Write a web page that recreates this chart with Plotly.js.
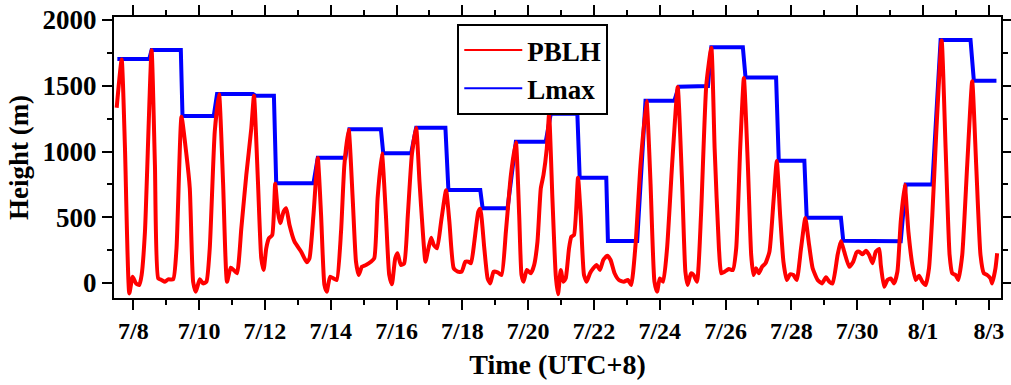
<!DOCTYPE html>
<html>
<head>
<meta charset="utf-8">
<script src="https://cdn.plot.ly/plotly-3.0.1.min.js"></script>
<style>html,body{margin:0;padding:0;background:#fff;}#chart{width:1011px;height:385px;}</style>
</head>
<body>
<div id="chart"></div>
<script>
// Time is given in days since 2021-07-08 00:00 (UTC+8)
const pblhDay = [-0.505,-0.354,-0.253,-0.121,-0.020,0.081,0.182,0.253,0.354,0.556,0.657,0.758,0.859,0.960,1.061,1.212,1.313,1.465,1.616,1.717,1.818,1.899,2.020,2.121,2.222,2.323,2.475,2.606,2.727,2.848,2.960,3.051,3.152,3.283,3.434,3.586,3.667,3.788,3.889,3.960,4.040,4.121,4.222,4.313,4.394,4.465,4.566,4.646,4.747,4.899,5.101,5.273,5.354,5.475,5.606,5.707,5.808,5.879,5.980,6.081,6.182,6.313,6.414,6.545,6.667,6.768,6.848,6.949,7.071,7.222,7.323,7.424,7.556,7.677,7.778,7.859,7.960,8.030,8.131,8.232,8.343,8.465,8.596,8.697,8.798,8.879,8.970,9.051,9.131,9.232,9.354,9.505,9.606,9.737,9.859,9.980,10.091,10.182,10.263,10.364,10.485,10.545,10.667,10.768,10.848,10.949,11.071,11.192,11.323,11.475,11.626,11.727,11.798,11.859,11.960,12.081,12.182,12.283,12.384,12.465,12.566,12.636,12.737,12.838,12.909,12.990,13.071,13.141,13.242,13.313,13.394,13.515,13.596,13.697,13.778,13.879,13.980,14.081,14.182,14.283,14.404,14.505,14.626,14.758,14.909,15.030,15.131,15.263,15.414,15.596,15.717,15.838,15.919,16.000,16.101,16.222,16.374,16.545,16.677,16.778,16.848,16.949,17.030,17.131,17.253,17.414,17.566,17.667,17.798,17.869,17.970,18.101,18.222,18.323,18.444,18.556,18.677,18.778,18.848,18.929,19.010,19.111,19.212,19.333,19.455,19.556,19.657,19.758,19.859,19.960,20.061,20.162,20.293,20.424,20.525,20.646,20.798,20.929,21.051,21.152,21.253,21.404,21.505,21.606,21.758,21.879,21.980,22.061,22.162,22.263,22.364,22.465,22.566,22.667,22.717,22.818,22.919,23.020,23.121,23.222,23.323,23.444,23.556,23.677,23.778,23.879,23.980,24.081,24.182,24.283,24.404,24.566,24.687,24.808,24.889,24.990,25.071,25.192,25.343,25.495,25.616,25.747,25.848,25.949,26.051,26.101,26.202,26.253];
const pblhVal = [1333,1700,1024,-79,48,-3,-15,61,390,1770,897,35,23,10,28,28,264,1265,973,720,10,-66,28,-3,10,264,1151,1435,771,10,117,99,74,416,821,1176,1425,771,188,99,264,340,365,755,542,454,542,568,441,314,238,157,188,517,950,517,-15,-66,48,35,23,390,897,1165,644,162,61,124,137,162,188,644,985,517,61,-10,188,226,137,150,517,973,1180,771,390,162,264,345,289,264,466,705,466,112,86,86,162,162,150,314,542,565,264,35,-3,86,81,61,390,821,1070,517,61,10,99,74,137,314,720,821,1024,1285,644,61,-86,99,10,35,264,352,365,800,517,61,10,74,112,137,99,175,208,175,74,23,10,23,-15,289,897,1385,771,10,-66,35,10,264,897,1490,771,86,-15,74,61,10,517,1506,1790,1024,264,74,86,106,99,264,1024,1560,897,213,61,112,74,124,150,238,618,928,517,162,23,66,61,23,264,495,314,112,23,-3,43,10,-3,213,320,238,124,162,233,238,218,246,213,150,238,259,137,-28,23,35,-3,86,466,748,390,137,23,56,10,-15,112,517,1151,1845,1024,213,74,61,23,213,897,1535,897,213,74,61,35,-3,112,226];
const lmaxDay = [-0.485,0.485,0.556,1.444,1.495,2.444,2.545,3.636,3.717,4.273,4.343,5.475,5.606,6.444,6.566,7.525,7.596,8.444,8.596,9.485,9.576,10.545,10.616,11.374,11.626,12.535,12.687,13.495,13.566,14.374,14.424,15.313,15.566,16.444,16.576,17.465,17.566,18.525,18.606,19.535,19.616,20.394,20.465,21.505,21.576,22.667,22.717,23.323,23.475,24.283,24.535,25.444,25.545,26.232];
const lmaxVal = [1703,1703,1772,1772,1270,1270,1437,1437,1425,1425,758,758,953,953,1169,1169,986,986,1181,1181,707,707,568,568,1075,1075,1288,1288,801,801,319,319,1387,1387,1493,1498,1792,1792,1562,1562,930,930,497,497,322,322,317,317,750,750,1848,1848,1539,1539];
const seriesNames = ['PBLH', 'Lmax'];
const seriesColors = ['#ff0000', '#0000ff'];
const xTitle = 'Time (UTC+8)';
const yTitle = 'Height (m)';

const t0 = Date.UTC(2021, 6, 8);
function toDate(d) {
  return new Date(t0 + Math.round(d * 86400000)).toISOString().replace('T', ' ').slice(0, 19);
}

const serif = 'Liberation Serif, Times New Roman, serif';
const traces = [
  { x: lmaxDay.map(toDate), y: lmaxVal, name: seriesNames[1], type: 'scatter', mode: 'lines',
    showlegend: false, line: { color: seriesColors[1], width: 4 } },
  { x: pblhDay.map(toDate), y: pblhVal, name: seriesNames[0], type: 'scatter', mode: 'lines',
    showlegend: false, line: { color: seriesColors[0], width: 4, shape: 'spline', smoothing: 0.5 } },
  // legend keys (thin sample lines, as in the original legend)
  { x: [null], y: [null], name: seriesNames[0], type: 'scatter', mode: 'lines',
    line: { color: seriesColors[0], width: 2 } },
  { x: [null], y: [null], name: seriesNames[1], type: 'scatter', mode: 'lines',
    line: { color: seriesColors[1], width: 2 } }
];

const axisCommon = {
  showline: true, linewidth: 2, linecolor: '#000', mirror: 'ticks',
  ticks: 'outside', ticklen: 10, tickwidth: 2, tickcolor: '#000',
  showgrid: false, zeroline: false,
  tickfont: { family: serif, size: 24, color: '#000', weight: 'bold' }
};

const layout = {
  width: 1011, height: 385,
  margin: { l: 114, r: 10, t: 17, b: 87 },
  paper_bgcolor: '#fff', plot_bgcolor: '#fff',
  showlegend: true,
  legend: {
    x: 0.387, y: 0.975, xanchor: 'left', yanchor: 'top',
    bgcolor: '#fff', bordercolor: '#000', borderwidth: 2,
    traceorder: 'normal', itemwidth: 58, tracegroupgap: 0,
    font: { family: serif, size: 27, color: '#000', weight: 'bold' }
  },
  xaxis: Object.assign({}, axisCommon, {
    type: 'date',
    range: ['2021-07-07 09:55', '2021-08-03 08:53'],
    tick0: '2021-07-08', dtick: 2 * 86400000, tickformat: '%-m/%-d',
    minor: { dtick: 86400000, ticks: 'outside', ticklen: 5, tickwidth: 2, tickcolor: '#000', showgrid: false },
    title: { text: xTitle, font: { family: serif, size: 28, color: '#000', weight: 'bold' }, standoff: 12 }
  }),
  yaxis: Object.assign({}, axisCommon, {
    range: [-114, 2023], dtick: 500, tick0: 0,
    tickfont: { family: serif, size: 27, color: '#000', weight: 'bold' },
    minor: { dtick: 250, ticks: 'outside', ticklen: 5, tickwidth: 2, tickcolor: '#000', showgrid: false },
    title: { text: yTitle, font: { family: serif, size: 27, color: '#000', weight: 'bold' }, standoff: 6 }
  })
};

Plotly.newPlot('chart', traces, layout, { staticPlot: true, displayModeBar: false });
</script>
</body>
</html>
